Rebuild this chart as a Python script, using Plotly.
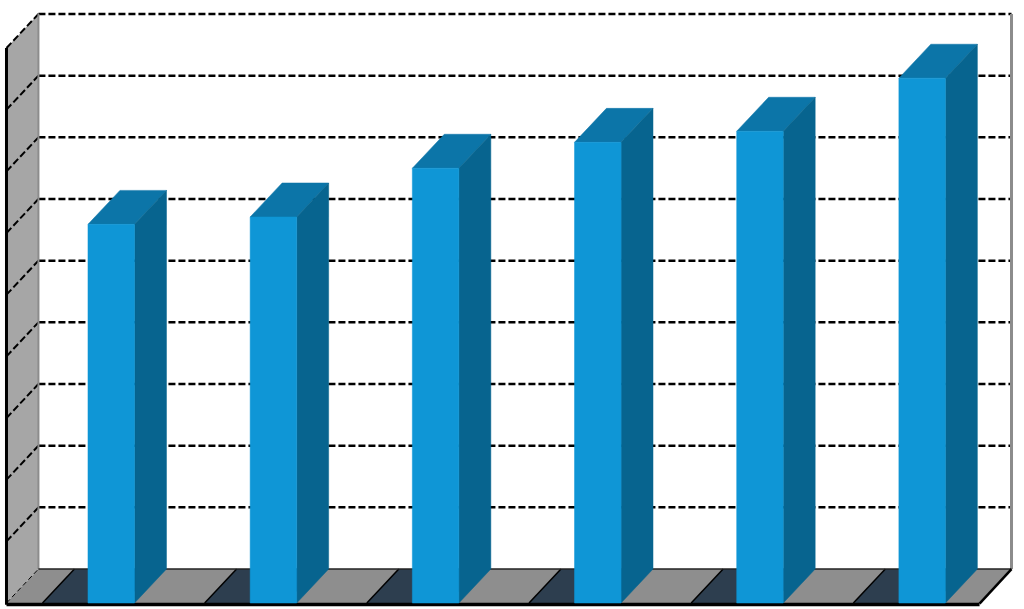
import plotly.graph_objects as go

categories = [0, 1, 2, 3, 4, 5]
values = [61.4, 62.6, 70.5, 74.7, 76.5, 85.1]
grid_values = [0, 10, 20, 30, 40, 50, 60, 70, 80, 90]
stripe_starts = [-0.278, 0.222, 0.722, 1.222, 1.722, 2.222, 2.722, 3.222, 3.722, 4.222, 4.722, 5.222, 5.722]

DX, DY = 0.197, 5.51
BAR_L, BAR_W = 0.5025, 0.287
X_MAX = 6.0
Y_MAX = 90
FRONT, SIDE, TOP = "#0F96D6", "#07648F", "#0C75A8"
WALL, FLOOR_G, FLOOR_D, AXIS_G = "#A6A6A6", "#8E8E8E", "#2D3E4F", "#8C8C8C"

fig = go.Figure()


def poly(xs, ys, color, stroke=0):
    fig.add_trace(go.Scatter(x=xs + xs[:1], y=ys + ys[:1], mode="lines", fill="toself", fillcolor=color,
                             line=dict(width=stroke, color=color), hoverinfo="skip", showlegend=False))


def line(xs, ys, color="#000000", width=1.0, dash="solid"):
    fig.add_trace(go.Scatter(x=xs, y=ys, mode="lines", line=dict(color=color, width=width, dash=dash),
                             hoverinfo="skip", showlegend=False))


# side wall and floor
poly([0, DX, DX, 0], [0, DY, Y_MAX + DY, Y_MAX], WALL)
poly([0, X_MAX, X_MAX + DX, DX], [0, 0, DY, DY], FLOOR_G)
for k, s in enumerate(stripe_starts):
    if k % 2 == 1:
        a, b = max(s, 0), min(s + 0.5, X_MAX)
        poly([a, b, b + DX, a + DX], [0, 0, DY, DY], FLOOR_D)
        line([a, a + DX], [0, DY], width=1.5)

# gridlines
for g in grid_values[1:]:
    line([0, DX], [g, g + DY], width=2, dash="7px,3px")
    line([DX, X_MAX + DX], [g + DY, g + DY], width=2.5, dash="7px,3px")
line([0, DX], [0, DY], width=1, dash="5px,3px")

# wall edges
line([DX, DX], [DY, Y_MAX + DY], color=AXIS_G, width=2)
line([X_MAX + DX, X_MAX + DX], [DY, Y_MAX + DY], color=AXIS_G, width=3)
line([DX, X_MAX + DX], [DY, DY], color="#222222", width=1.5)
line([X_MAX, X_MAX + DX], [-0.1, DY], width=2.5)
line([0, 0], [-0.3, Y_MAX], width=3)
line([0, X_MAX], [-0.25, -0.25], width=3.5)

# bars
for c, v in zip(categories, values):
    l = c + BAR_L
    r = l + BAR_W
    poly([l, r, r + DX, l + DX], [v, v, v + DY, v + DY], TOP, 0.5)
    poly([r, r + DX, r + DX, r], [0, DY, v + DY, v], SIDE, 0.5)
    poly([l, r, r, l], [0, 0, v, v], FRONT, 0.5)

fig.update_layout(
    width=1024, height=609, margin=dict(l=0, r=0, t=0, b=0),
    paper_bgcolor="#FFFFFF", plot_bgcolor="#FFFFFF", showlegend=False,
    xaxis=dict(range=[-0.04, 6.274], visible=False, fixedrange=True),
    yaxis=dict(range=[-0.97, 97.78], visible=False, fixedrange=True),
)
fig.write_html("out.html", config={"displayModeBar": False}, post_script="document.body.style.margin='0';")
